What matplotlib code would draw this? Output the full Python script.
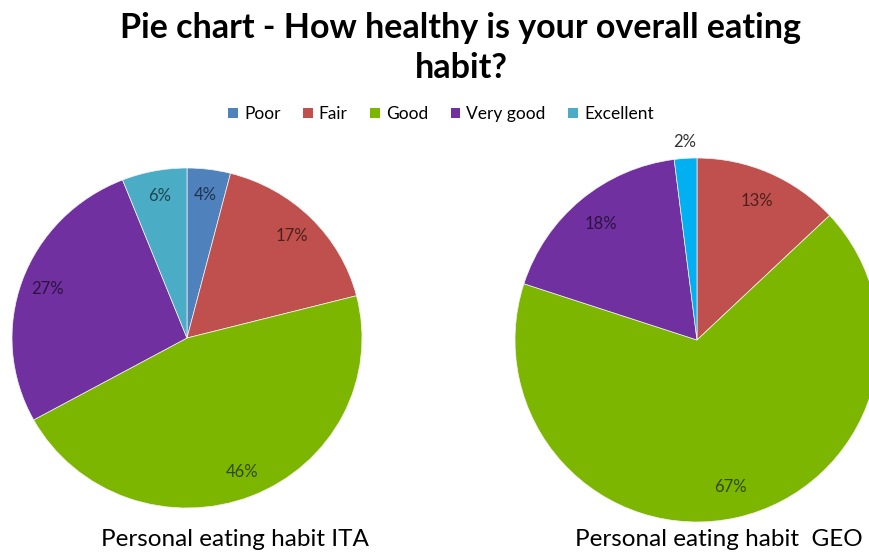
import matplotlib
matplotlib.use('Agg')
import matplotlib.pyplot as plt
from matplotlib.patches import Patch
import numpy as np

categories = ['Poor', 'Fair', 'Good', 'Very good', 'Excellent']
ita_values = [4, 17, 46, 27, 6]
geo_values = [0, 13, 67, 18, 2]
ita_title = 'Personal eating habit ITA'
geo_title = 'Personal eating habit  GEO'
title = 'Pie chart - How healthy is your overall eating\nhabit?'

colors_ita = ['#4F81BD', '#C0504D', '#7DB600', '#7030A0', '#4BACC6']
colors_geo = ['#4F81BD', '#C0504D', '#7DB600', '#7030A0', '#00B0F0']

plt.rcParams['font.family'] = ['Lato', 'DejaVu Sans']

W, H = 870, 552
fig = plt.figure(figsize=(W / 100, H / 100), dpi=100)


def pix_axes(cx, cy, rx, ry):
    # axes box in pixels (origin top-left) -> figure fraction
    return fig.add_axes([(cx - rx) / W, (H - cy - ry) / H, 2 * rx / W, 2 * ry / H])


def darker(c, f=0.4):
    rgb = np.array(matplotlib.colors.to_rgb(c))
    return tuple(rgb * f)


def draw_pie(ax, values, colors, pctd):
    wedges, texts, autotexts = ax.pie(
        values, colors=colors, startangle=90, counterclock=False,
        autopct=lambda p: '' if p < 0.5 else '%.0f%%' % p,
        pctdistance=pctd, wedgeprops=dict(linewidth=0.5, edgecolor='#f4f4f4'),
        textprops=dict(fontsize=12))
    for w, t, c, v in zip(wedges, autotexts, colors, values):
        t.set_color(darker(c))
        if 0 < v < 3:
            ang = np.deg2rad((w.theta1 + w.theta2) / 2)
            t.set_position((1.09 * np.cos(ang), 1.09 * np.sin(ang)))
            t.set_color('#333333')
    ax.set_xlim(-1, 1)
    ax.set_ylim(-1, 1)
    ax.set_aspect('auto')
    ax.axis('off')


ax1 = pix_axes(187, 338, 175, 170)
draw_pie(ax1, ita_values, colors_ita, 0.85)
ax2 = pix_axes(697, 340, 182, 182)
draw_pie(ax2, geo_values, colors_geo, 0.83)

fig.text(461 / W, 1 - 48 / H, title, ha='center', va='center', fontsize=24.5,
         fontweight='bold', linespacing=1.3)

handles = [Patch(facecolor=c, edgecolor='none') for c in colors_ita]
fig.legend(handles, categories, loc='center', bbox_to_anchor=(441 / W, 1 - 114 / H),
           ncol=5, frameon=False, fontsize=12.5, handlelength=0.55, handleheight=0.55,
           handletextpad=0.35, columnspacing=1.3)

fig.text(235 / W, 1 - 540 / H, ita_title, ha='center', va='center', fontsize=17.5)
fig.text(719 / W, 1 - 540 / H, geo_title, ha='center', va='center', fontsize=17.5)

fig.savefig('out.png', dpi=100)
